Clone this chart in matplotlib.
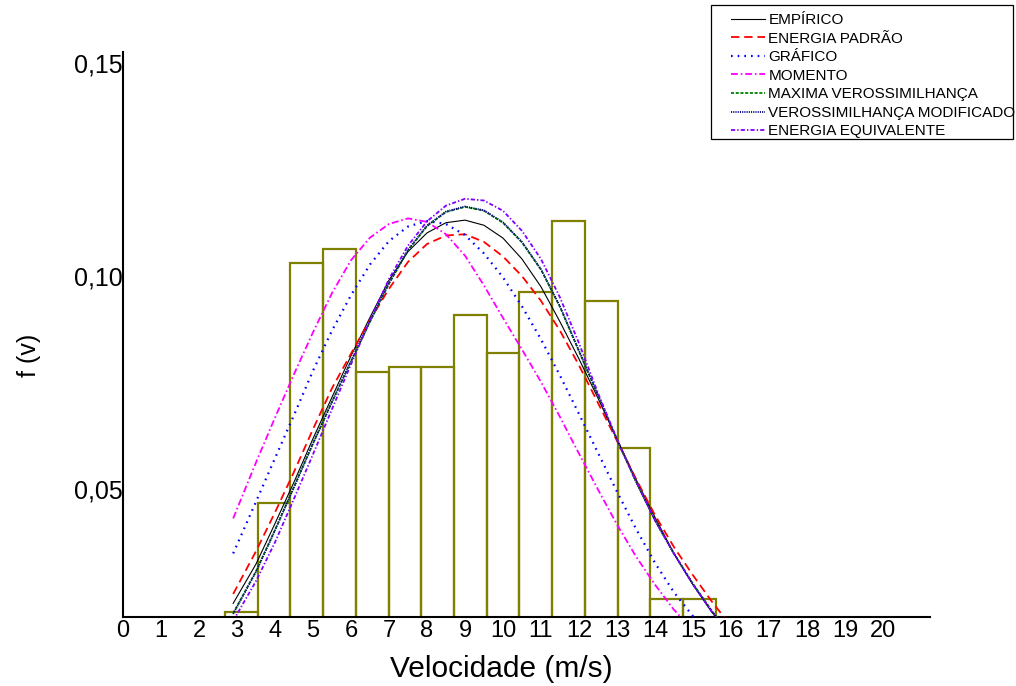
import numpy as np
import matplotlib
matplotlib.use("Agg")
import matplotlib.pyplot as plt
from matplotlib.patches import Rectangle

# ---------------- data ----------------
bin_edges = [2.68, 3.54, 4.40, 5.27, 6.13, 6.99, 7.85, 8.71, 9.57, 10.43,
             11.29, 12.16, 13.02, 13.88, 14.74, 15.60]
freq = [0.0212, 0.0467, 0.1030, 0.1063, 0.0776, 0.0787, 0.0787, 0.0909,
        0.0820, 0.0963, 0.1129, 0.0942, 0.0598, 0.0244, 0.0244]

v = [2.9, 3.5, 4.0, 4.5, 5.0, 5.5, 6.0, 6.5, 7.0, 7.5, 8.0, 8.5, 9.0, 9.5,
     10.0, 10.5, 11.0, 11.5, 12.0, 12.5, 13.0, 13.5, 14.0, 14.5, 15.0, 15.5, 16.0]

empirico = [0.0233, 0.0325, 0.0420, 0.0517, 0.0619, 0.0716, 0.0813, 0.0903, 0.0990,
            0.1057, 0.1101, 0.1125, 0.1131, 0.1119, 0.1089, 0.1040, 0.0975, 0.0893,
            0.0806, 0.0714, 0.0618, 0.0524, 0.0435, 0.0350, 0.0277, 0.0212, 0.0158]
energia_padrao = [0.0255, 0.0355, 0.0446, 0.0541, 0.0641, 0.0737, 0.0818, 0.0897, 0.0970,
                  0.1033, 0.1075, 0.1095, 0.1098, 0.1080, 0.1046, 0.1000, 0.0942, 0.0872,
                  0.0791, 0.0703, 0.0614, 0.0525, 0.0440, 0.0365, 0.0299, 0.0237, 0.0180]
grafico = [0.0350, 0.0471, 0.0573, 0.0674, 0.0778, 0.0872, 0.0955, 0.1027, 0.1082,
           0.1116, 0.1129, 0.1122, 0.1096, 0.1053, 0.0997, 0.0929, 0.0852, 0.0767,
           0.0677, 0.0586, 0.0495, 0.0408, 0.0328, 0.0259, 0.0203, 0.0158, 0.0120]
momento = [0.0432, 0.0563, 0.0668, 0.0770, 0.0868, 0.0960, 0.1037, 0.1090, 0.1122,
           0.1135, 0.1127, 0.1098, 0.1048, 0.0978, 0.0902, 0.0828, 0.0752, 0.0670,
           0.0584, 0.0500, 0.0418, 0.0343, 0.0277, 0.0218, 0.0170, 0.0128, 0.0092]
max_verossimilhanca = [0.0210, 0.0308, 0.0405, 0.0506, 0.0608, 0.0705, 0.0800, 0.0893, 0.0982,
                       0.1060, 0.1117, 0.1150, 0.1162, 0.1153, 0.1125, 0.1079, 0.1015, 0.0928,
                       0.0824, 0.0721, 0.0617, 0.0519, 0.0428, 0.0350, 0.0279, 0.0215, 0.0160]
veross_modificado = [0.0208, 0.0307, 0.0404, 0.0505, 0.0607, 0.0705, 0.0800, 0.0894, 0.0983,
                     0.1061, 0.1118, 0.1151, 0.1163, 0.1154, 0.1126, 0.1080, 0.1016, 0.0929,
                     0.0825, 0.0721, 0.0617, 0.0519, 0.0428, 0.0349, 0.0278, 0.0214, 0.0159]
energia_equivalente = [0.0192, 0.0285, 0.0376, 0.0478, 0.0582, 0.0688, 0.0793, 0.0896, 0.0993,
                       0.1071, 0.1128, 0.1165, 0.1181, 0.1177, 0.1153, 0.1106, 0.1040, 0.0950,
                       0.0843, 0.0726, 0.0618, 0.0519, 0.0428, 0.0350, 0.0277, 0.0213, 0.0158]

labels = ["EMPÍRICO", "ENERGIA PADRÃO", "GRÁFICO", "MOMENTO",
          "MAXIMA VEROSSIMILHANÇA", "VEROSSIMILHANÇA MODIFICADO", "ENERGIA EQUIVALENTE"]

x_ticks = list(range(0, 21))
x_tick_labels = [str(t) for t in x_ticks]
y_ticks = [0.05, 0.10, 0.15]
y_tick_labels = ["0,05", "0,10", "0,15"]

# ---------------- styles ----------------
plt.rcParams['font.family'] = ['Liberation Sans', 'DejaVu Sans']
plt.rcParams['lines.scale_dashes'] = False

W, H = 1016, 686
fig = plt.figure(figsize=(W / 100, H / 100), dpi=100)
ax = fig.add_axes([123 / W, 1 - 617 / H, (930 - 123) / W, (617 - 52) / H])
ax.set_xlim(0, 21.24)
ax.set_ylim(0.0201, 0.1525)

edges = np.array(bin_edges)
ax.bar(edges[:-1], freq, width=np.diff(edges), align='edge', fill=False,
       edgecolor='#808000', linewidth=1.6, zorder=1)

curves = [empirico, energia_padrao, grafico, momento,
          max_verossimilhanca, veross_modificado, energia_equivalente]
styles = [
    dict(color='#000000', ls='-', lw=0.8),
    dict(color='#FF0000', ls=(0, (6, 3.5)), lw=1.3),
    dict(color='#0000FF', ls=(0, (1.2, 3.6)), lw=1.6),
    dict(color='#FF00FF', ls=(0, (5, 2, 1.2, 2)), lw=1.3),
    dict(color='#008000', ls=(0, (2.2, 1.2)), lw=1.3),
    dict(color='#000080', ls=(0, (0.8, 0.8)), lw=1.3),
    dict(color='#8000FF', ls=(0, (3, 1.5, 1, 1.5)), lw=1.3),
]
handles = []
for y, st, lab in zip(curves, styles, labels):
    ln, = ax.plot(v, y, color=st['color'], linestyle=st['ls'], linewidth=st['lw'],
                  label=lab, zorder=3)
    handles.append(ln)

for s in ['top', 'right']:
    ax.spines[s].set_visible(False)
for s in ['left', 'bottom']:
    ax.spines[s].set_linewidth(1.5)
    ax.spines[s].set_color('black')

ax.set_xticks(x_ticks)
ax.set_xticklabels(x_tick_labels)
ax.set_yticks(y_ticks)
ax.set_yticklabels(y_tick_labels)
ax.tick_params(axis='both', length=0, colors='black')
ax.tick_params(axis='x', pad=2.5, labelsize=17)
ax.tick_params(axis='y', pad=0.5, labelsize=18)

fig.text(501 / W, 1 - 677 / H, "Velocidade (m/s)", ha='center', va='baseline', fontsize=21.5)
fig.text(29 / W, 1 - 355 / H, "f (v)", ha='center', va='center', rotation=90, fontsize=18)

# legend
fig.legend(handles, labels, loc='upper left', bbox_to_anchor=(731 / W, 1 - 13 / H),
           frameon=False, borderpad=0, borderaxespad=0, handlelength=2.25,
           handletextpad=0.2, labelspacing=0.30, fontsize=11)
fig.add_artist(Rectangle((711 / W, 1 - 139 / H), (1013 - 711) / W, (139 - 5) / H,
                         transform=fig.transFigure, fill=False, edgecolor='black', lw=0.9))

fig.savefig("out.png", dpi=100)
